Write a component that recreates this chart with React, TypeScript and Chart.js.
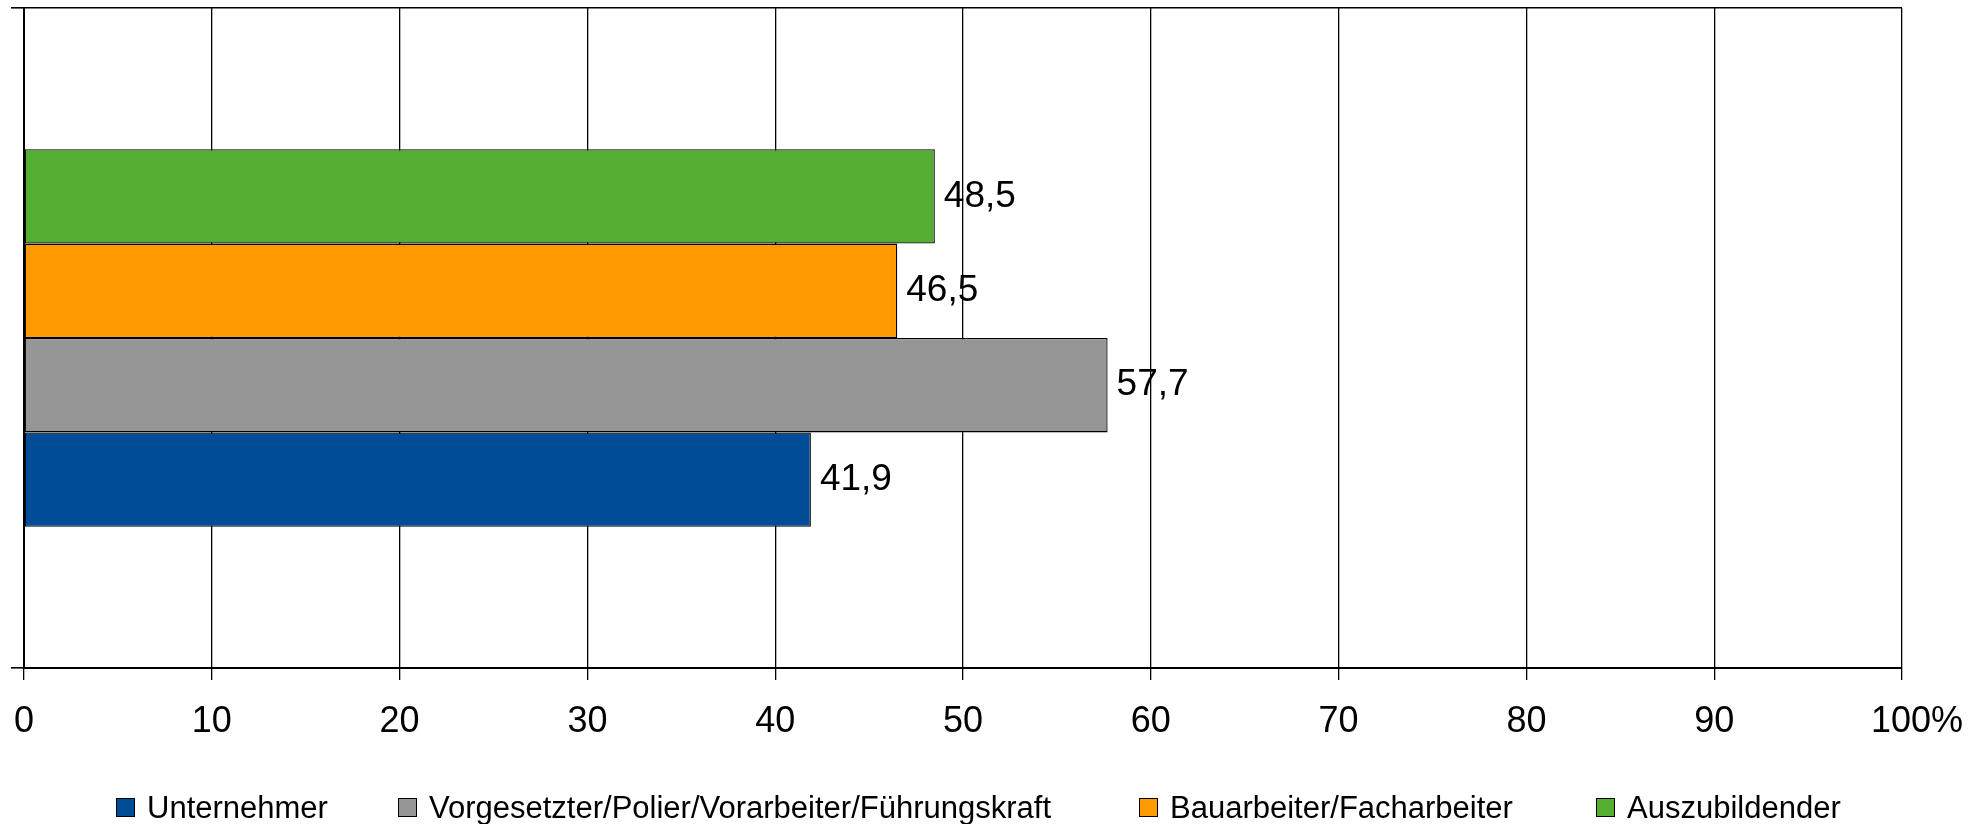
import React, { useEffect, useRef } from "react";
import { Chart, registerables } from "chart.js";

Chart.register(...registerables);

// ---- data ----
const categories: string[] = [""];
const seriesNames: string[] = [
  "Unternehmer",
  "Vorgesetzter/Polier/Vorarbeiter/Führungskraft",
  "Bauarbeiter/Facharbeiter",
  "Auszubildender",
];
const seriesColors: string[] = ["#004C97", "#969696", "#FF9900", "#53AE32"];
const unternehmerValues: number[] = [41.9];
const vorgesetzterValues: number[] = [57.7];
const bauarbeiterValues: number[] = [46.5];
const auszubildenderValues: number[] = [48.5];
const xTickLabels: string[] = ["0", "10", "20", "30", "40", "50", "60", "70", "80", "90", "   100%"];
const legendLeft: number[] = [116, 398, 1139, 1596];

const FONT = '"Liberation Sans", Arial, Helvetica, sans-serif';

const valueLabelPlugin = {
  id: "valueLabels",
  afterDatasetsDraw(chart: any) {
    const ctx = chart.ctx;
    ctx.save();
    ctx.font = `37px ${FONT}`;
    ctx.fillStyle = "#000";
    ctx.textAlign = "left";
    ctx.textBaseline = "middle";
    chart.data.datasets.forEach((ds: any, i: number) => {
      const meta = chart.getDatasetMeta(i);
      meta.data.forEach((el: any, j: number) => {
        const v = ds.data[j] as number;
        ctx.fillText(v.toFixed(1).replace(".", ","), el.x + 9, el.y);
      });
    });
    ctx.restore();
  },
};

export default function App() {
  const ref = useRef<HTMLCanvasElement | null>(null);

  useEffect(() => {
    if (!ref.current) return;
    const seriesValues = [unternehmerValues, vorgesetzterValues, bauarbeiterValues, auszubildenderValues];
    // draw top-to-bottom: last series on top
    const order = [3, 2, 1, 0];
    const chart = new Chart(ref.current, {
      type: "bar",
      data: {
        labels: categories,
        datasets: order.map((k) => ({
          label: seriesNames[k],
          data: seriesValues[k],
          backgroundColor: seriesColors[k],
          borderColor: "#000",
          borderWidth: 1.3,
          borderSkipped: false,
          barPercentage: 1,
          categoryPercentage: 0.572,
        })),
      },
      options: {
        indexAxis: "y",
        responsive: false,
        animation: false,
        devicePixelRatio: 1,
        layout: { padding: { left: 11, right: 81, top: 8, bottom: 81 } },
        plugins: {
          legend: { display: false },
          tooltip: { enabled: false },
        },
        scales: {
          x: {
            min: 0,
            max: 100,
            ticks: {
              stepSize: 10,
              color: "#000",
              font: { family: FONT, size: 36, lineHeight: 1.55 },
              padding: 14,
              maxRotation: 0,
              callback: (_v: any, i: number) => xTickLabels[i],
            },
            grid: { color: "#000", lineWidth: 1.3, tickLength: 12, drawTicks: true },
            border: { color: "#000", width: 2 },
            afterFit: (scale: any) => {
              scale.height = 75;
            },
          },
          y: {
            ticks: { display: false },
            grid: { color: "#000", lineWidth: 1.6, tickLength: 13, drawTicks: true },
            border: { color: "#000", width: 2 },
          },
        },
      },
      plugins: [valueLabelPlugin],
    } as any);
    return () => chart.destroy();
  }, []);

  return (
    <div style={{ position: "absolute", left: 0, top: 0, width: 1983, height: 824, background: "#fff" }}>
      <canvas ref={ref} width={1983} height={824} style={{ position: "absolute", left: 0, top: 0 }} />
      {seriesNames.map((name, i) => (
        <div
          key={name}
          style={{
            position: "absolute",
            left: legendLeft[i],
            top: 798,
            height: 19,
            display: "flex",
            alignItems: "center",
            fontFamily: FONT,
            fontSize: 31,
            lineHeight: "19px",
            color: "#000",
            whiteSpace: "nowrap",
          }}
        >
          <span
            style={{
              display: "inline-block",
              width: 17,
              height: 17,
              background: seriesColors[i],
              border: "1px solid #000",
              marginRight: 12,
            }}
          />
          <span>{name}</span>
        </div>
      ))}
    </div>
  );
}
